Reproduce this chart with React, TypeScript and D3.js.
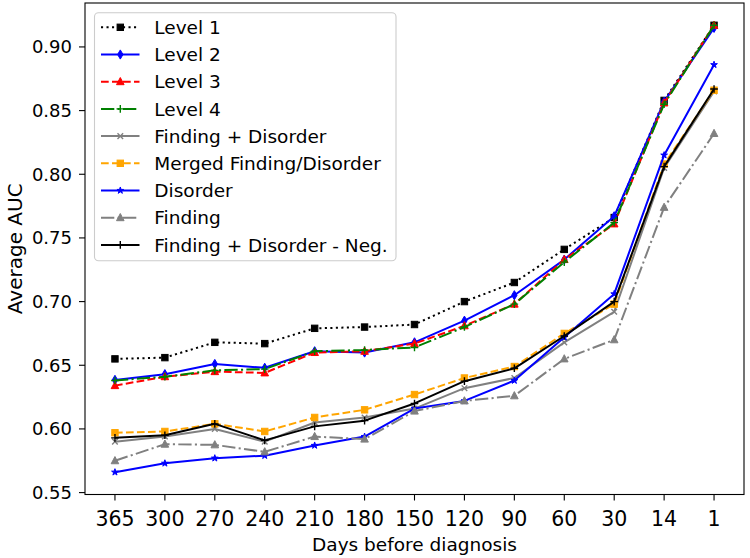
import React, { useRef, useEffect } from "react";
import * as d3 from "d3";

const days = ["365", "300", "270", "240", "210", "180", "150", "120", "90", "60", "30", "14", "1"];

const level1 = [0.655, 0.656, 0.668, 0.667, 0.679, 0.680, 0.682, 0.700, 0.715, 0.741, 0.766, 0.858, 0.917];
const level2 = [0.6385, 0.643, 0.651, 0.648, 0.661, 0.660, 0.668, 0.685, 0.705, 0.733, 0.767, 0.857, 0.915];
const level3 = [0.634, 0.641, 0.645, 0.644, 0.660, 0.661, 0.667, 0.681, 0.698, 0.733, 0.761, 0.856, 0.917];
const level4 = [0.638, 0.641, 0.646, 0.647, 0.661, 0.662, 0.664, 0.680, 0.698, 0.731, 0.762, 0.855, 0.917];
const findingDisorder = [0.590, 0.594, 0.600, 0.590, 0.605, 0.609, 0.616, 0.632, 0.640, 0.668, 0.692, 0.805, 0.865];
const merged = [0.597, 0.598, 0.604, 0.598, 0.609, 0.615, 0.627, 0.640, 0.649, 0.675, 0.698, 0.808, 0.866];
const disorder = [0.566, 0.573, 0.577, 0.579, 0.587, 0.594, 0.616, 0.622, 0.638, 0.672, 0.706, 0.815, 0.886];
const finding = [0.575, 0.588, 0.5875, 0.582, 0.594, 0.592, 0.614, 0.622, 0.626, 0.655, 0.670, 0.774, 0.832];
const findingDisorderNeg = [0.593, 0.595, 0.604, 0.591, 0.602, 0.6065, 0.620, 0.6375, 0.6476, 0.673, 0.700, 0.806, 0.867];

const yTicks = [0.55, 0.60, 0.65, 0.70, 0.75, 0.80, 0.85, 0.90];

// dash patterns like matplotlib's at lw 1.5
const DASHED = "7.7,3.3";
const DOTTED = "2.1,3.4";
const DASHDOT = "13.3,3.3,2.1,3.3";

const series = [
  { name: "Level 1", values: level1, color: "#000000", dash: DOTTED, marker: "square" },
  { name: "Level 2", values: level2, color: "#0000ff", dash: null, marker: "thin_diamond" },
  { name: "Level 3", values: level3, color: "#ff0000", dash: DASHED, marker: "triangle" },
  { name: "Level 4", values: level4, color: "#008000", dash: DASHDOT, marker: "plus" },
  { name: "Finding + Disorder", values: findingDisorder, color: "#808080", dash: null, marker: "x" },
  { name: "Merged Finding/Disorder", values: merged, color: "#ffa500", dash: DASHED, marker: "square" },
  { name: "Disorder", values: disorder, color: "#0000ff", dash: null, marker: "star" },
  { name: "Finding", values: finding, color: "#808080", dash: DASHDOT, marker: "triangle" },
  { name: "Finding + Disorder - Neg.", values: findingDisorderNeg, color: "#000000", dash: null, marker: "plus" },
];

function drawMarker(g, type, x, y, color) {
  if (type === "square") {
    g.append("rect")
      .attr("x", x - 3.2).attr("y", y - 3.2)
      .attr("width", 6.4).attr("height", 6.4)
      .attr("fill", color).attr("stroke", color).attr("stroke-width", 1);
  } else if (type === "thin_diamond") {
    g.append("polygon")
      .attr("points", `${x},${y - 4.6} ${x + 2.7},${y} ${x},${y + 4.6} ${x - 2.7},${y}`)
      .attr("fill", color).attr("stroke", color).attr("stroke-width", 1);
  } else if (type === "triangle") {
    g.append("polygon")
      .attr("points", `${x},${y - 4.2} ${x + 3.8},${y + 3} ${x - 3.8},${y + 3}`)
      .attr("fill", color).attr("stroke", color).attr("stroke-width", 1);
  } else if (type === "plus") {
    g.append("path")
      .attr("d", `M${x - 3.8},${y}H${x + 3.8}M${x},${y - 3.8}V${y + 3.8}`)
      .attr("stroke", color).attr("stroke-width", 1.4).attr("fill", "none");
  } else if (type === "x") {
    g.append("path")
      .attr("d", `M${x - 2.8},${y - 2.8}L${x + 2.8},${y + 2.8}M${x - 2.8},${y + 2.8}L${x + 2.8},${y - 2.8}`)
      .attr("stroke", color).attr("stroke-width", 1.4).attr("fill", "none");
  } else if (type === "star") {
    // small star, reads as a dot at this size
    g.append("path")
      .attr("d", d3.symbol(d3.symbolStar, 14)())
      .attr("transform", `translate(${x},${y})`)
      .attr("fill", color).attr("stroke", color).attr("stroke-width", 1);
  }
}

function AucChart() {
  const svgRef = useRef();
  const width = 750;
  const height = 558;
  const left = 85, right = 744, top = 3, bottom = 494.5;

  useEffect(() => {
    document.body.style.margin = "0";

    const svg = d3.select(svgRef.current);
    svg.selectAll("*").remove();
    svg.attr("width", width).attr("height", height)
      .attr("font-family", "DejaVu Sans");

    const x = d3.scaleLinear().domain([-0.6, days.length - 1 + 0.6]).range([left, right]);
    const y = d3.scaleLinear().domain([0.5485, 0.9345]).range([bottom, top]);

    svg.append("rect")
      .attr("x", 0).attr("y", 0).attr("width", width).attr("height", height)
      .attr("fill", "white");

    // lines + markers
    const plot = svg.append("g");
    const line = d3.line().x((d, i) => x(i)).y(d => y(d));

    series.forEach(s => {
      const g = plot.append("g");
      g.append("path")
        .attr("d", line(s.values))
        .attr("fill", "none")
        .attr("stroke", s.color)
        .attr("stroke-width", 2)
        .attr("stroke-linejoin", "round")
        .attr("stroke-dasharray", s.dash);
      s.values.forEach((v, i) => drawMarker(g, s.marker, x(i), y(v), s.color));
    });

    // axes frame
    svg.append("rect")
      .attr("x", left).attr("y", top)
      .attr("width", right - left).attr("height", bottom - top)
      .attr("fill", "none").attr("stroke", "black").attr("stroke-width", 1.1);

    const yAxis = svg.append("g");
    yTicks.forEach(t => {
      yAxis.append("line")
        .attr("x1", left - 6).attr("x2", left)
        .attr("y1", y(t)).attr("y2", y(t))
        .attr("stroke", "black").attr("stroke-width", 1.1);
      yAxis.append("text")
        .attr("x", left - 13).attr("y", y(t)).attr("dy", "0.36em")
        .attr("text-anchor", "end").attr("font-size", 18)
        .text(d3.format(".2f")(t));
    });

    const xAxis = svg.append("g");
    days.forEach((d, i) => {
      xAxis.append("line")
        .attr("x1", x(i)).attr("x2", x(i))
        .attr("y1", bottom).attr("y2", bottom + 6)
        .attr("stroke", "black").attr("stroke-width", 1.1);
      xAxis.append("text")
        .attr("x", x(i)).attr("y", 526)
        .attr("text-anchor", "middle").attr("font-size", 20.5)
        .text(d);
    });

    svg.append("text")
      .attr("x", (left + right) / 2).attr("y", 551)
      .attr("text-anchor", "middle").attr("font-size", 18.5)
      .text("Days before diagnosis");

    svg.append("text")
      .attr("transform", `translate(22,${(top + bottom) / 2}) rotate(-90)`)
      .attr("text-anchor", "middle").attr("font-size", 20)
      .text("Average AUC");

    // legend
    const legend = svg.append("g");
    legend.append("rect")
      .attr("x", 94.5).attr("y", 12.7)
      .attr("width", 301.5).attr("height", 248)
      .attr("rx", 4)
      .attr("fill", "white").attr("fill-opacity", 0.8)
      .attr("stroke", "#cccccc").attr("stroke-width", 1.1);

    series.forEach((s, i) => {
      const cy = 27.3 + i * 27.2;
      const g = legend.append("g");
      g.append("line")
        .attr("x1", 101).attr("x2", 139.5)
        .attr("y1", cy).attr("y2", cy)
        .attr("stroke", s.color).attr("stroke-width", 2)
        .attr("stroke-dasharray", s.dash);
      drawMarker(g, s.marker, 120.3, cy, s.color);
      g.append("text")
        .attr("x", 154.3).attr("y", cy).attr("dy", "0.36em")
        .attr("font-size", 18.5)
        .text(s.name);
    });
  }, []);

  return (
    <div>
      <svg ref={svgRef} style={{ display: "block" }}></svg>
    </div>
  );
}

export default function App() {
  return <AucChart />;
}
